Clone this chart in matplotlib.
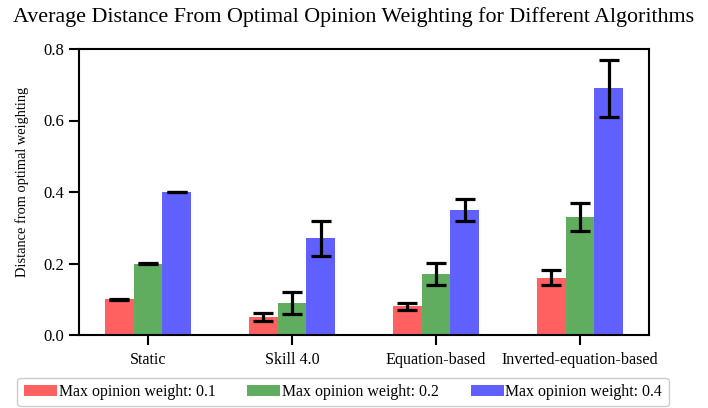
import matplotlib
matplotlib.use("Agg")
import matplotlib.pyplot as plt
import numpy as np

plt.rcParams['font.family'] = ['Liberation Serif', 'DejaVu Serif']

categories = ["Static", "Skill 4.0", "Equation-based", "Inverted-equation-based"]
series_labels = ["Max opinion weight: 0.1", "Max opinion weight: 0.2", "Max opinion weight: 0.4"]
means_01 = [0.10, 0.05, 0.08, 0.16]
means_02 = [0.20, 0.09, 0.17, 0.33]
means_04 = [0.40, 0.27, 0.35, 0.69]
errs_01 = [0.001, 0.011, 0.010, 0.021]
errs_02 = [0.001, 0.031, 0.031, 0.040]
errs_04 = [0.001, 0.050, 0.030, 0.080]

colors = ["#ff6060", "#60ad60", "#6060ff"]

fig = plt.figure(figsize=(7.08, 4.08), dpi=100)
ax = fig.add_axes([79/708, 1-335/408, (649-79)/708, (335-49)/408])

x = np.arange(len(categories))
w = 0.2
for i, (m, e) in enumerate([(means_01, errs_01), (means_02, errs_02), (means_04, errs_04)]):
    ax.bar(x + (i - 1) * w, m, w, yerr=e, color=colors[i], label=series_labels[i],
           error_kw=dict(ecolor='black', elinewidth=2.3, capsize=7.5, capthick=2.3))

ax.set_ylim(0, 0.8)
ax.set_yticks([0.0, 0.2, 0.4, 0.6, 0.8])
ax.set_xticks(x)
ax.set_xticklabels(categories, fontsize=11.6)
ax.tick_params(axis='y', labelsize=12)
for s in ax.spines.values():
    s.set_linewidth(1.5)
ax.tick_params(width=1.5, length=7)
ax.tick_params(axis='x', pad=5)
ax.set_ylabel("Distance from optimal weighting", fontsize=10.4)
ax.yaxis.set_label_coords(-0.088, 0.535)
fig.text(354/708, 1-17/408,
         "Average Distance From Optimal Opinion Weighting for Different Algorithms",
         fontsize=15.8, ha='center', va='center')

fig.legend(loc='center', bbox_to_anchor=(343/708, 1-392/408), ncol=3, fontsize=11.4,
           handlelength=2.1, handletextpad=0.1, columnspacing=2.0, fancybox=True,
           edgecolor='#cccccc', framealpha=1)

fig.savefig("out.png", dpi=100)
